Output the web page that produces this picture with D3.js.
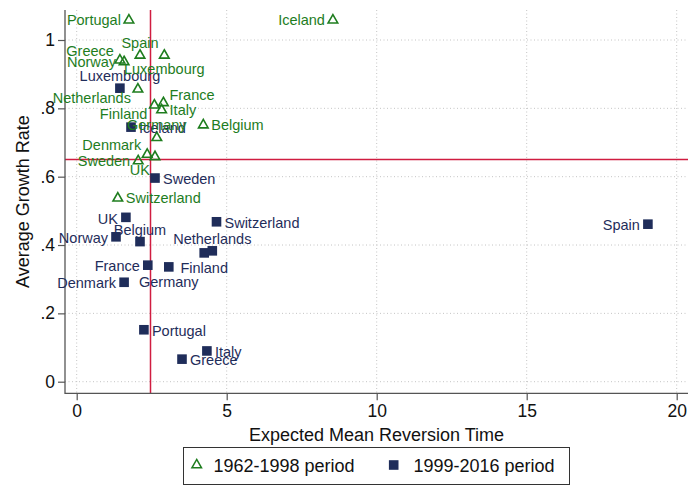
<!DOCTYPE html>
<html>
<head>
<meta charset="utf-8">
<script src="https://cdn.jsdelivr.net/npm/d3@7"></script>
<style>
  html, body { margin: 0; padding: 0; background: #fff; }
  svg { display: block; font-family: "Liberation Sans", Arial, Helvetica, sans-serif; }
</style>
</head>
<body>
<svg id="chart" width="688" height="489"></svg>
<script>
// ---- data ----------------------------------------------------------------
const seriesNames = ["1962-1998 period", "1999-2016 period"];

const countries1962 = ["Portugal", "Iceland", "Spain", "Luxembourg", "Greece", "Norway",
  "Netherlands", "Finland", "France", "Italy", "Germany", "Belgium", "Denmark", "UK",
  "Sweden", "Switzerland"];
const reversion1962 = [1.74, 8.54, 2.11, 2.92, 1.44, 1.58, 2.04, 2.59, 2.89, 2.83, 2.67,
  4.22, 2.35, 2.61, 2.05, 1.37];
const growth1962 = [1.061, 1.061, 0.958, 0.958, 0.944, 0.939, 0.859, 0.812, 0.819, 0.798,
  0.717, 0.754, 0.668, 0.661, 0.649, 0.540];

const countries1999 = ["Luxembourg", "Iceland", "Sweden", "UK", "Norway", "Belgium",
  "Switzerland", "Netherlands", "Finland", "France", "Germany", "Denmark", "Portugal",
  "Italy", "Greece", "Spain"];
const reversion1999 = [1.44, 1.81, 2.61, 1.64, 1.31, 2.11, 4.66, 4.52, 4.25, 2.37, 3.07,
  1.58, 2.24, 4.34, 3.51, 19.04];
const growth1999 = [0.859, 0.745, 0.596, 0.481, 0.424, 0.410, 0.468, 0.383, 0.377, 0.341,
  0.336, 0.291, 0.152, 0.090, 0.066, 0.461];

// marker-label clock positions (as in a mlabvposition variable)
const labelClock1962 = [9, 9, 12, 6, 10, 9, 8, 8, 2, 3, 12, 3, 10, 7, 9, 3];
const labelClock1999 = [12, 3, 3, 9, 9, 12, 3, 12, 6, 9, 6, 9, 3, 3, 3, 9];

// reference lines
const xLineValue = 2.48;
const yLineValue = 0.65;

// axes
const xTicks = [0, 5, 10, 15, 20];
const xTickLabels = ["0", "5", "10", "15", "20"];
const yTicks = [0, 0.2, 0.4, 0.6, 0.8, 1];
const yTickLabels = ["0", ".2", ".4", ".6", ".8", "1"];
const xTitle = "Expected Mean Reversion Time";
const yTitle = "Average Growth Rate";

// ---- style ---------------------------------------------------------------
const GREEN = "#1e7d1e";
const NAVY = "#1f2d5a";
const RED = "#d01c40";
const AXIS = "#555";
const GRID = "#c4c4c4";

const frame = { left: 65, right: 688, top: 10, bottom: 393.3 };

const x = d3.scaleLinear().domain([0, 20]).range([76.7, 676.7]);
const y = d3.scaleLinear().domain([0, 1]).range([381.7, 40]);

// offsets of the label from its marker for each clock position: [dx, dy, anchor]
const clock = {
  12: [0, -12, "middle"],
  2: [6, -7.5, "start"],
  3: [8, 1, "start"],
  6: [0, 14.5, "middle"],
  7: [-5, 14, "end"],
  8: [-7, 9.5, "end"],
  9: [-8, 1, "end"],
  10: [-6, -8.5, "end"]
};

const svg = d3.select("#chart");

// ---- gridlines -----------------------------------------------------------
const grid = svg.append("g");
grid.selectAll("line.gx").data(xTicks).join("line")
  .attr("x1", d => x(d)).attr("x2", d => x(d))
  .attr("y1", frame.top).attr("y2", frame.bottom)
  .attr("stroke", GRID).attr("stroke-width", 1).attr("stroke-dasharray", "1,2.5");
grid.selectAll("line.gy").data(yTicks).join("line")
  .attr("x1", frame.left).attr("x2", frame.right)
  .attr("y1", d => y(d)).attr("y2", d => y(d))
  .attr("stroke", GRID).attr("stroke-width", 1).attr("stroke-dasharray", "1,2.5");

// ---- reference lines -----------------------------------------------------
svg.append("line")
  .attr("x1", frame.left).attr("x2", frame.right)
  .attr("y1", Math.round(y(yLineValue)) - 0.5).attr("y2", Math.round(y(yLineValue)) - 0.5)
  .attr("stroke", RED).attr("stroke-width", 1.5);
svg.append("line")
  .attr("x1", Math.round(x(xLineValue)) - 0.5).attr("x2", Math.round(x(xLineValue)) - 0.5)
  .attr("y1", frame.top).attr("y2", frame.bottom)
  .attr("stroke", RED).attr("stroke-width", 1.5);

// ---- axes ----------------------------------------------------------------
const xAxis = svg.append("g")
  .attr("transform", `translate(0,${frame.bottom})`)
  .call(d3.axisBottom(x).tickValues(xTicks)
    .tickFormat((d, i) => xTickLabels[i]).tickSize(7).tickPadding(4.5));
const yAxis = svg.append("g")
  .attr("transform", `translate(${frame.left},0)`)
  .call(d3.axisLeft(y).tickValues(yTicks)
    .tickFormat((d, i) => yTickLabels[i]).tickSize(7).tickPadding(3));
[xAxis, yAxis].forEach(g => {
  g.select(".domain").remove();
  g.selectAll(".tick line").attr("stroke", AXIS).attr("stroke-width", 1.2);
  g.selectAll(".tick text").attr("fill", "#111").attr("font-size", 17.5)
    .attr("font-family", "Liberation Sans, Arial, sans-serif");
});
svg.append("line")
  .attr("x1", frame.left).attr("x2", frame.left)
  .attr("y1", frame.top).attr("y2", frame.bottom + 0.6)
  .attr("stroke", AXIS).attr("stroke-width", 1.3);
svg.append("line")
  .attr("x1", frame.left).attr("x2", frame.right)
  .attr("y1", frame.bottom).attr("y2", frame.bottom)
  .attr("stroke", AXIS).attr("stroke-width", 1.3);

svg.append("text")
  .attr("x", (frame.left + frame.right) / 2).attr("y", 441)
  .attr("text-anchor", "middle").attr("font-size", 18).attr("fill", "#111")
  .text(xTitle);
svg.append("text")
  .attr("transform", `translate(29,${(frame.top + frame.bottom) / 2}) rotate(-90)`)
  .attr("text-anchor", "middle").attr("font-size", 18).attr("fill", "#111")
  .text(yTitle);

// ---- markers -------------------------------------------------------------
const triPath = "M0,-4.6L4.8,3.8L-4.8,3.8Z";
const SQ = 9.6;

const pts1962 = countries1962.map((c, i) => ({ name: c, x: reversion1962[i], y: growth1962[i], pos: labelClock1962[i] }));
const pts1999 = countries1999.map((c, i) => ({ name: c, x: reversion1999[i], y: growth1999[i], pos: labelClock1999[i] }));

svg.append("g").selectAll("path").data(pts1962).join("path")
  .attr("d", triPath)
  .attr("transform", d => `translate(${x(d.x)},${y(d.y)})`)
  .attr("fill", "none").attr("stroke", GREEN).attr("stroke-width", 1.6)
  .attr("stroke-linejoin", "miter");

svg.append("g").selectAll("rect").data(pts1999).join("rect")
  .attr("x", d => x(d.x) - SQ / 2).attr("y", d => y(d.y) - SQ / 2)
  .attr("width", SQ).attr("height", SQ).attr("fill", NAVY);

function drawLabels(pts, color) {
  svg.append("g").selectAll("text").data(pts).join("text")
    .attr("x", d => x(d.x) + clock[d.pos][0])
    .attr("y", d => y(d.y) + clock[d.pos][1])
    .attr("dy", "0.36em")
    .attr("text-anchor", d => clock[d.pos][2])
    .attr("font-size", 14.5).attr("fill", color)
    .text(d => d.name);
}
drawLabels(pts1999, NAVY);
drawLabels(pts1962, GREEN);

// ---- legend --------------------------------------------------------------
const legend = svg.append("g");
legend.append("rect")
  .attr("x", 183.5).attr("y", 447.5).attr("width", 386).attr("height", 37)
  .attr("fill", "#fff").attr("stroke", "#333").attr("stroke-width", 1);
legend.append("path").attr("d", triPath)
  .attr("transform", "translate(196.7,464)")
  .attr("fill", "none").attr("stroke", GREEN).attr("stroke-width", 1.5);
legend.append("text").attr("x", 213.5).attr("y", 472).attr("font-size", 18)
  .attr("fill", "#111").text(seriesNames[0]);
legend.append("rect")
  .attr("x", 393.7 - SQ / 2).attr("y", 465 - SQ / 2).attr("width", SQ).attr("height", SQ)
  .attr("fill", NAVY);
legend.append("text").attr("x", 413.5).attr("y", 472).attr("font-size", 18)
  .attr("fill", "#111").text(seriesNames[1]);
</script>
</body>
</html>
